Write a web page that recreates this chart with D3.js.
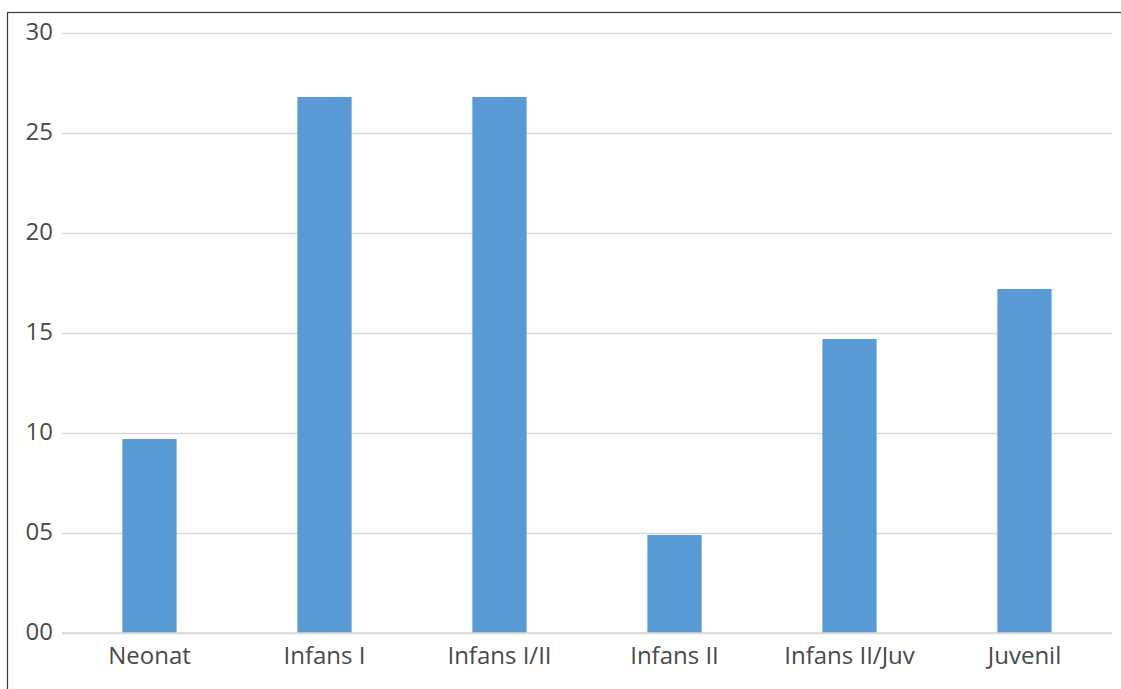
<!DOCTYPE html>
<html>
<head>
<meta charset="utf-8">
<script src="https://cdn.jsdelivr.net/npm/d3@7/dist/d3.min.js"></script>
<style>
  html, body { margin: 0; padding: 0; background: #fff; overflow: hidden; }
  svg { display: block; }
  text { font-family: "Open Sans", "DejaVu Sans", sans-serif; fill: #4a4a4a; }
</style>
</head>
<body>
<svg id="chart" width="1121" height="689"></svg>
<script>
// Age groups and their values
const categories = ["Neonat", "Infans I", "Infans I/II", "Infans II", "Infans II/Juv", "Juvenil"];
const values = [9.7, 26.8, 26.8, 4.9, 14.7, 17.2];
const yTicks = [0, 5, 10, 15, 20, 25, 30];
const yTickLabels = ["00", "05", "10", "15", "20", "25", "30"];

const svg = d3.select("#chart");
const W = 1121, H = 689;
const plot = { left: 62, right: 1112, top: 33, bottom: 633 };

// Outer frame (continues past the right and bottom edges)
svg.append("rect")
  .attr("x", 7.5).attr("y", 12.5)
  .attr("width", W + 20).attr("height", H + 20)
  .attr("fill", "none").attr("stroke", "#3a3a3a").attr("stroke-width", 1.2);

const x = d3.scaleBand()
  .domain(categories)
  .range([plot.left, plot.right])
  .paddingInner(0.69)
  .paddingOuter(0.345);

const y = d3.scaleLinear()
  .domain([0, 30])
  .range([plot.bottom, plot.top]);

// Horizontal gridlines and y labels
const yAxis = d3.axisLeft(y)
  .tickValues(yTicks)
  .tickSize(-(plot.right - plot.left))
  .tickPadding(9)
  .tickFormat((d, i) => yTickLabels[i]);

const gy = svg.append("g")
  .attr("transform", `translate(${plot.left},0)`)
  .call(yAxis);
gy.select(".domain").remove();
gy.selectAll(".tick line").attr("stroke", "#d9d9d9").attr("stroke-width", 1.5);
gy.selectAll(".tick text")
  .attr("font-size", 24)
  .attr("dy", "0.28em")
  .style("fill", "#4a4a4a");

// Bars
svg.append("g")
  .selectAll("rect")
  .data(categories)
  .join("rect")
  .attr("x", d => x(d))
  .attr("width", x.bandwidth())
  .attr("y", (d, i) => y(values[i]))
  .attr("height", (d, i) => y(0) - y(values[i]))
  .attr("fill", "#5b9bd5");

// Category axis
const xAxis = d3.axisBottom(x).tickSize(0).tickPadding(0);
const gx = svg.append("g")
  .attr("transform", `translate(0,${plot.bottom})`)
  .call(xAxis);
gx.select(".domain").attr("stroke", "#d9d9d9").attr("stroke-width", 1.5)
  .attr("d", `M${plot.left},0H${plot.right}`);
gx.selectAll(".tick text")
  .attr("font-size", 24)
  .attr("y", 31)
  .attr("dy", 0)
  .style("fill", "#4a4a4a");
</script>
</body>
</html>
